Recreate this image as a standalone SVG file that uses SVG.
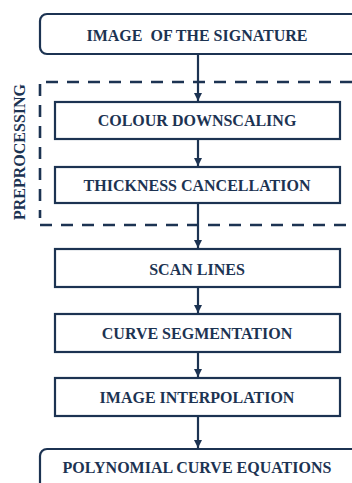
<svg xmlns="http://www.w3.org/2000/svg" width="352" height="483" viewBox="0 0 352 483">
<style>
.box{fill:#fff;stroke:#1c3352;stroke-width:2.2}
.rbox{fill:#fff;stroke:#1c3352;stroke-width:2.2}
.t{font-family:"Liberation Serif","Times New Roman",serif;font-weight:bold;font-size:16px;fill:#1c3352;text-anchor:middle}
.dash{fill:none;stroke:#1c3352;stroke-width:2.6;stroke-dasharray:12 9}
.con{stroke:#1c3352;stroke-width:2.2;fill:none;marker-end:url(#ah)}
</style>
<defs>
<marker id="ah" markerWidth="10" markerHeight="10" refX="8" refY="5" orient="auto" markerUnits="userSpaceOnUse">
<path d="M0,1 L8,5 L0,9 Z" fill="#1c3352"/>
</marker>
</defs>
<rect width="352" height="483" fill="#fff"/>
<g id="preprocessing">
<path class="dash" d="M40,84 V218" stroke-dasharray="10 10"/>
<path class="dash" d="M46,82 H352"/>
<path class="dash" d="M40,225 H352"/>
<text class="t" transform="translate(25,152) rotate(-90)">PREPROCESSING</text>
</g>
<g id="connectors">
<line class="con" x1="198" y1="55" x2="198" y2="101"/>
<line class="con" x1="198" y1="139" x2="198" y2="166"/>
<line class="con" x1="198" y1="203" x2="198" y2="248"/>
<line class="con" x1="198" y1="287" x2="198" y2="313"/>
<line class="con" x1="198" y1="352" x2="198" y2="377"/>
<line class="con" x1="198" y1="416" x2="198" y2="448"/>
</g>
<g id="n1">
<rect class="rbox" x="40" y="14" width="330" height="40" rx="7"/>
<text class="t" x="197" y="41" xml:space="preserve">IMAGE  OF THE SIGNATURE</text>
</g>
<g id="n2">
<rect class="box" x="55" y="102" width="285" height="37"/>
<text class="t" x="197" y="126">COLOUR DOWNSCALING</text>
</g>
<g id="n3">
<rect class="box" x="55" y="167" width="285" height="36"/>
<text class="t" x="197" y="191">THICKNESS CANCELLATION</text>
</g>
<g id="n4">
<rect class="box" x="55" y="249" width="285" height="38"/>
<text class="t" x="197" y="275">SCAN LINES</text>
</g>
<g id="n5">
<rect class="box" x="55" y="314" width="285" height="38"/>
<text class="t" x="197" y="339">CURVE SEGMENTATION</text>
</g>
<g id="n6">
<rect class="box" x="55" y="378" width="285" height="38"/>
<text class="t" x="197" y="403">IMAGE INTERPOLATION</text>
</g>
<g id="n7">
<rect class="rbox" x="40" y="449" width="330" height="50" rx="7"/>
<text class="t" x="197" y="473">POLYNOMIAL CURVE EQUATIONS</text>
</g>
</svg>
